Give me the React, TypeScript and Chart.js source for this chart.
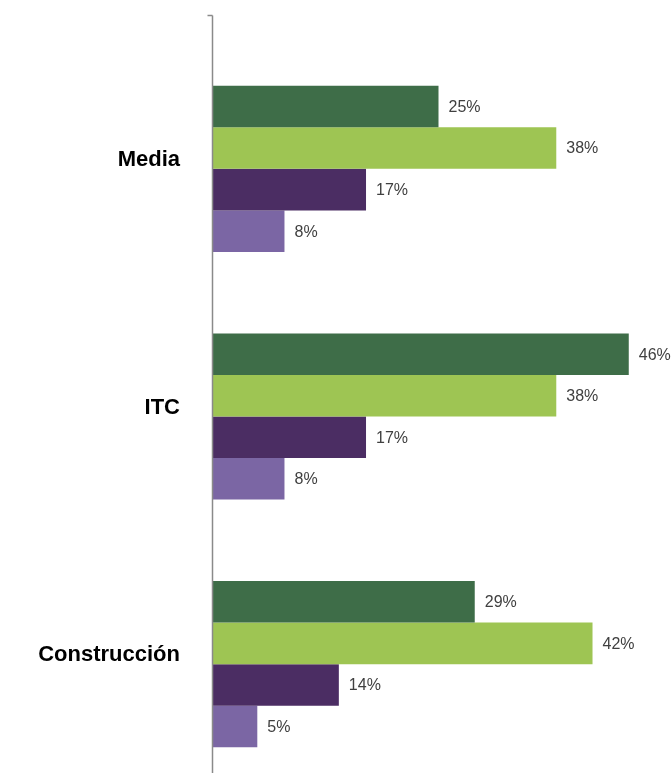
import React, { useEffect, useRef } from "react";
import { Chart, registerables } from "chart.js";

Chart.register(...registerables);

const categories = ["Media", "ITC", "Construcción"];
const series1 = [25, 46, 29];
const series2 = [38, 38, 42];
const series3 = [17, 17, 14];
const series4 = [8, 8, 5];
const seriesNames = ["Serie 1", "Serie 2", "Serie 3", "Serie 4"];
const seriesColors = ["#3E6D48", "#9EC553", "#4B2D63", "#7B66A4"];
const xMax = 50;

const axisPlugin = {
  id: "axisLine",
  afterDraw(chart: any) {
    const { ctx } = chart;
    const yScale = chart.scales.y;
    const band = yScale.getPixelForValue(1) - yScale.getPixelForValue(0);
    const x = Math.round(chart.scales.x.getPixelForValue(0)) + 0.5;
    const top = Math.round(yScale.getPixelForValue(0) - band / 2 - 30) + 0.5;
    ctx.save();
    ctx.strokeStyle = "#8A8A8A";
    ctx.lineWidth = 1.5;
    ctx.beginPath();
    ctx.moveTo(x, top);
    ctx.lineTo(x, chart.height);
    ctx.moveTo(x - 5, top);
    ctx.lineTo(x, top);
    ctx.stroke();
    ctx.restore();
  },
};

const labelPlugin = {
  id: "valueLabels",
  afterDatasetsDraw(chart: any) {
    const { ctx } = chart;
    ctx.save();
    ctx.font = '16px "Liberation Sans", Arial, sans-serif';
    ctx.fillStyle = "#404040";
    ctx.textAlign = "left";
    ctx.textBaseline = "middle";
    chart.data.datasets.forEach((ds: any, i: number) => {
      const meta = chart.getDatasetMeta(i);
      meta.data.forEach((bar: any, j: number) => {
        ctx.fillText(ds.data[j] + "%", bar.x + 10, bar.y + 1);
      });
    });
    ctx.restore();
  },
};

export default function App() {
  const ref = useRef<HTMLCanvasElement>(null);
  useEffect(() => {
    if (!ref.current) return;
    const data = [series1, series2, series3, series4];
    const chart = new Chart(ref.current, {
      type: "bar",
      data: {
        labels: categories.map((c) => [c, ""]),
        datasets: data.map((d, i) => ({
          label: seriesNames[i],
          data: d,
          backgroundColor: seriesColors[i],
          borderWidth: 0,
          barPercentage: 1,
          categoryPercentage: 0.671,
        })),
      },
      options: {
        indexAxis: "y",
        animation: false,
        responsive: false,
        maintainAspectRatio: false,
        layout: { padding: { top: 45, right: 6, bottom: 12, left: 0 } },
        plugins: { legend: { display: false }, tooltip: { enabled: false } },
        scales: {
          x: { display: false, min: 0, max: xMax },
          y: {
            grid: { display: false, drawTicks: false },
            border: { display: false },
            afterFit: (scale: any) => {
              scale.width = 212;
              scale.paddingTop = 0;
              scale.paddingBottom = 0;
            },
            ticks: {
              padding: 32,
              color: "#000",
              font: {
                family: '"Liberation Sans", Arial, sans-serif',
                size: 22,
                weight: "bold",
                lineHeight: 0.8,
              },
            },
          },
        },
      },
      plugins: [axisPlugin, labelPlugin],
    });
    return () => chart.destroy();
  }, []);
  return (
    <div
      style={{
        position: "absolute",
        left: 0,
        top: 0,
        width: 671,
        height: 773,
        overflow: "hidden",
        background: "#fff",
      }}
    >
      <canvas ref={ref} width={671} height={800} style={{ display: "block" }} />
    </div>
  );
}
